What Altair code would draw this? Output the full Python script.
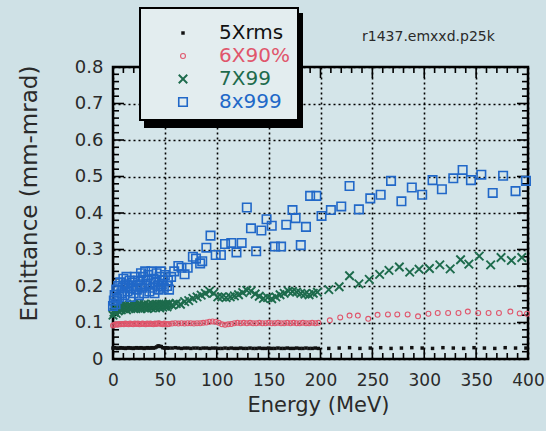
import altair as alt
import pandas as pd

# ---------------- data ----------------
series_names = ["5Xrms", "6X90%", "7X99", "8x999"]
series_colors = ["#111111", "#e0566c", "#1d6b4c", "#2168c8"]
run_label = "r1437.emxxd.p25k"

x_tick_labels = [0, 50, 100, 150, 200, 250, 300, 350, 400]
y_tick_labels = [0, 0.1, 0.2, 0.3, 0.4, 0.5, 0.6, 0.7, 0.8]

# 5Xrms
rms_e = [0, 1.5, 3, 4.5, 6, 7.5, 9, 10.5, 12, 13.5, 15, 16.5, 18, 19.5, 21, 22.5, 24, 25.5, 27, 28.5,
         30, 31.5, 33, 34.5, 36, 37.5, 39, 40.5, 42, 43.5, 45, 46.5, 48, 49.5, 51, 52.5, 54,
         57, 60, 63, 66, 69, 72, 75, 78, 81, 84, 87, 90, 93, 96, 99, 102, 105, 108, 111, 114, 117, 120,
         123, 126, 129, 132, 135, 138, 141, 144, 147, 150, 153, 156, 159, 162, 165, 168, 171, 174, 177,
         180, 183, 186, 189, 192, 195, 198,
         208, 218, 228, 238, 248, 258, 268, 278, 288, 298, 308, 318, 328, 338, 348, 358, 368, 378, 388, 398]
rms_v = [0.030, 0.031, 0.030, 0.029, 0.030, 0.031, 0.030, 0.030, 0.029, 0.030, 0.031, 0.030, 0.030, 0.029,
         0.030, 0.031, 0.030, 0.030, 0.031, 0.030, 0.029, 0.030, 0.031, 0.030, 0.030, 0.031, 0.030, 0.031,
         0.033, 0.036, 0.035, 0.034, 0.031, 0.030, 0.031, 0.030, 0.030,
         0.030, 0.031, 0.030, 0.029, 0.030, 0.030, 0.029, 0.030, 0.030, 0.029, 0.030, 0.030, 0.029, 0.030,
         0.030, 0.029, 0.029, 0.030, 0.029, 0.030, 0.029, 0.029, 0.030, 0.029, 0.029, 0.030, 0.029, 0.029,
         0.030, 0.029, 0.029, 0.030, 0.029, 0.029, 0.030, 0.029, 0.029, 0.030, 0.029, 0.029, 0.030, 0.029,
         0.029, 0.030, 0.029, 0.029, 0.030, 0.029,
         0.029, 0.030, 0.031, 0.029, 0.030, 0.031, 0.029, 0.030, 0.031, 0.030, 0.029, 0.031, 0.030, 0.029,
         0.031, 0.030, 0.029, 0.031, 0.030, 0.030]

# 6X90%
p90_e = [0, 1.5, 3, 4.5, 6, 7.5, 9, 10.5, 12, 13.5, 15, 16.5, 18, 19.5, 21, 22.5, 24, 25.5, 27, 28.5,
         30, 31.5, 33, 34.5, 36, 37.5, 39, 40.5, 42, 43.5, 45, 46.5, 48, 49.5, 51, 52.5, 54,
         57, 60, 63, 66, 69, 72, 75, 78, 81, 84, 87, 90, 93, 96, 99, 102, 105, 108, 111, 114, 117, 120,
         123, 126, 129, 132, 135, 138, 141, 144, 147, 150, 153, 156, 159, 162, 165, 168, 171, 174, 177,
         180, 183, 186, 189, 192, 195, 198,
         209, 219, 228, 236, 246, 255, 265, 274, 284, 294, 304, 313, 323, 333, 342, 352, 362, 372, 383, 392, 399]
p90_v = [0.092, 0.094, 0.095, 0.094, 0.096, 0.095, 0.096, 0.095, 0.097, 0.096, 0.095, 0.097, 0.096, 0.095,
         0.097, 0.096, 0.097, 0.095, 0.096, 0.097, 0.096, 0.095, 0.097, 0.096, 0.097, 0.096, 0.095, 0.097,
         0.096, 0.098, 0.097, 0.096, 0.095, 0.097, 0.096, 0.095, 0.096,
         0.097, 0.098, 0.097, 0.098, 0.097, 0.098, 0.098, 0.097, 0.098, 0.098, 0.099, 0.100, 0.102, 0.103,
         0.102, 0.099, 0.095, 0.094, 0.095, 0.096, 0.098, 0.099, 0.098, 0.099, 0.098, 0.099, 0.098, 0.098,
         0.099, 0.098, 0.098, 0.099, 0.098, 0.098, 0.099, 0.098, 0.098, 0.099, 0.098, 0.099, 0.098, 0.098,
         0.099, 0.098, 0.098, 0.099, 0.098, 0.099,
         0.106, 0.114, 0.119, 0.119, 0.110, 0.121, 0.122, 0.122, 0.122, 0.117, 0.124, 0.126, 0.126, 0.126,
         0.130, 0.126, 0.126, 0.126, 0.130, 0.125, 0.124]

# 7X99
p99_e = [0, 1, 2, 3, 4, 5, 6, 7, 8, 9, 10, 11, 12, 13, 14, 15, 16, 17, 18, 19, 20, 21, 22, 23, 24, 25, 26,
         27, 28, 29, 30, 31, 32, 33, 34, 35, 36, 37, 38, 39, 40, 41, 42, 43, 44, 45, 46, 47, 48, 49, 50,
         51, 52, 53, 54,
         57, 61, 65, 69, 73, 77, 81, 85, 89, 93, 97, 101, 105, 109, 113, 117, 121, 125, 129, 133, 137, 141,
         145, 149, 153, 157, 161, 165, 169, 173, 177, 181, 185, 189, 193, 197,
         208, 218, 228, 237, 247, 257, 266, 276, 286, 295, 305, 315, 325, 335, 343, 353, 364, 374, 384, 394]
p99_v = [0.120, 0.128, 0.135, 0.125, 0.140, 0.132, 0.138, 0.145, 0.135, 0.142, 0.138, 0.148, 0.140, 0.135,
         0.145, 0.140, 0.148, 0.138, 0.145, 0.140, 0.150, 0.142, 0.138, 0.146, 0.140, 0.150, 0.143, 0.138,
         0.147, 0.142, 0.150, 0.140, 0.145, 0.138, 0.148, 0.142, 0.146, 0.140, 0.150, 0.143, 0.147, 0.140,
         0.150, 0.144, 0.148, 0.140, 0.146, 0.150, 0.142, 0.148, 0.145, 0.150, 0.143, 0.148, 0.152,
         0.148, 0.152, 0.150, 0.157, 0.160, 0.166, 0.170, 0.175, 0.180, 0.186, 0.180, 0.170, 0.170, 0.168,
         0.170, 0.173, 0.176, 0.182, 0.188, 0.186, 0.178, 0.172, 0.166, 0.168, 0.165, 0.170, 0.176, 0.180,
         0.186, 0.185, 0.183, 0.180, 0.178, 0.176, 0.180, 0.183,
         0.190, 0.198, 0.228, 0.206, 0.218, 0.232, 0.243, 0.252, 0.238, 0.246, 0.248, 0.258, 0.247, 0.272,
         0.260, 0.282, 0.258, 0.278, 0.270, 0.278]

# 8x999
p999_e = [0, 0.8, 1.6, 2.4, 3.2, 4, 5, 6, 7, 8, 9, 10, 11, 12, 13, 14, 15, 16, 17, 18, 19, 20, 21, 22, 23,
          24, 25, 26, 27, 28, 29, 30, 31, 32, 33, 34, 35, 36, 37, 38, 39, 40, 41, 42, 43, 44, 45, 46, 47,
          48, 49, 50, 52, 53, 54,
          56, 59, 63, 66, 69, 72, 77, 80, 84, 86, 90, 94, 99, 104, 108, 114, 119, 124, 129, 133, 138, 143,
          148, 153, 156, 162, 167, 173, 176, 181, 186, 190, 196, 201, 210, 220, 228, 237, 248, 258, 268, 278,
          288, 298, 308, 317, 328, 337, 345, 355, 366, 376, 388, 398]
p999_v = [0.145, 0.160, 0.175, 0.150, 0.190, 0.165, 0.200, 0.170, 0.210, 0.180, 0.195, 0.220, 0.175, 0.205,
          0.225, 0.185, 0.200, 0.215, 0.170, 0.195, 0.210, 0.180, 0.225, 0.200, 0.190, 0.215, 0.175, 0.205,
          0.235, 0.195, 0.225, 0.180, 0.240, 0.200, 0.215, 0.230, 0.185, 0.205, 0.240, 0.195, 0.220, 0.180,
          0.210, 0.235, 0.200, 0.190, 0.225, 0.240, 0.205, 0.215, 0.195, 0.230, 0.200, 0.215, 0.190,
          0.225, 0.240, 0.255, 0.250, 0.232, 0.250, 0.280, 0.275, 0.262, 0.268, 0.305, 0.338, 0.285, 0.285,
          0.315, 0.318, 0.292, 0.318, 0.415, 0.358, 0.295, 0.352, 0.383, 0.365, 0.308, 0.308, 0.368, 0.408,
          0.386, 0.312, 0.362, 0.447, 0.447, 0.392, 0.408, 0.418, 0.474, 0.410, 0.440, 0.450, 0.488, 0.432,
          0.470, 0.450, 0.490, 0.465, 0.495, 0.518, 0.490, 0.505, 0.455, 0.502, 0.460, 0.488]

# axis tick positions (inward ticks on all four sides)
x_minor = list(range(0, 401, 10))
y_minor = [i / 100 for i in range(0, 81, 2)]

# ---------------- chart ----------------
FONT = "DejaVu Sans"
W, H = 415, 292
BG = "#cfe1e6"
TXT = "#2a2a2a"

frames = []
for name, es, vs in zip(series_names, [rms_e, p90_e, p99_e, p999_e], [rms_v, p90_v, p99_v, p999_v]):
    frames.append(pd.DataFrame({"E": es, "V": vs, "series": name}))
df = pd.concat(frames, ignore_index=True)

xscale = alt.Scale(domain=[0, 400], nice=False, zero=False)
yscale = alt.Scale(domain=[0, 0.8], nice=False, zero=False)
xaxis = alt.Axis(values=x_tick_labels, grid=True, gridColor="black", gridDash=[2, 3], gridWidth=1.6,
                 ticks=False, tickSize=0, domain=False, labelFont=FONT, labelFontSize=17,
                 labelColor=TXT, labelPadding=13, title="Energy (MeV)", titleFont=FONT,
                 titleFontSize=21, titleFontWeight="normal", titleColor=TXT,
                 titleX=205, titleY=46, titleBaseline="middle", labelFlush=False)
yaxis = alt.Axis(values=y_tick_labels, format=".1~f", grid=True, gridColor="black", gridDash=[2, 3],
                 gridWidth=1.6, ticks=False, tickSize=0, domain=False, labelFont=FONT, labelFontSize=18,
                 labelColor=TXT, labelPadding=10, title="Emittance (mm-mrad)", titleFont=FONT,
                 titleFontSize=23, titleFontWeight="normal", titleColor=TXT, titleX=-84, titleY=126,
                 titleAngle=270, titleAlign="center", titleBaseline="middle", labelFlush=False)


def X(field):
    return alt.X(field, type="quantitative", scale=xscale, axis=xaxis)


def Y(field):
    return alt.Y(field, type="quantitative", scale=yscale, axis=yaxis)


x_path = "M-1,-1L1,1M-1,1L1,-1"
mark_styles = [
    dict(shape="square", filled=True, size=12, strokeWidth=0, opacity=1),
    dict(shape="circle", filled=False, size=24, strokeWidth=1.1, opacity=1),
    dict(shape=x_path, filled=False, size=72, strokeWidth=1.9, opacity=1),
    dict(shape="square", filled=False, size=72, strokeWidth=1.6, opacity=1),
]

layers = []

# inward ticks
tdx = pd.DataFrame({"t": x_minor})
tdx["len"] = [11 if t % 50 == 0 else 6 for t in x_minor]
tdy = pd.DataFrame({"t": y_minor})
tdy["len"] = [11 if round(t * 100) % 10 == 0 else 6 for t in y_minor]

for lo, sel in [(6, "datum.len == 6"), (11, "datum.len == 11")]:
    layers.append(alt.Chart(tdx).transform_filter(sel).mark_rule(color="black", strokeWidth=1.6)
                  .encode(x=X("t"), y=alt.value(H), y2=alt.value(H - lo)))
    layers.append(alt.Chart(tdx).transform_filter(sel).mark_rule(color="black", strokeWidth=1.6)
                  .encode(x=X("t"), y=alt.value(0), y2=alt.value(lo)))
    layers.append(alt.Chart(tdy).transform_filter(sel).mark_rule(color="black", strokeWidth=1.6)
                  .encode(y=Y("t"), x=alt.value(0), x2=alt.value(lo)))
    layers.append(alt.Chart(tdy).transform_filter(sel).mark_rule(color="black", strokeWidth=1.6)
                  .encode(y=Y("t"), x=alt.value(W), x2=alt.value(W - lo)))

# data series
for name, color, st in zip(series_names, series_colors, mark_styles):
    layers.append(
        alt.Chart(df).transform_filter(alt.datum.series == name)
        .mark_point(color=color, **st)
        .encode(x=X("E"), y=Y("V"))
    )

# legend box (with drop shadow) and entries
one = pd.DataFrame({"k": [0]})
bx0, bx1, by0, by1 = 27, 185, -59, 53
layers.append(alt.Chart(one).mark_rect(color="black").encode(
    x=alt.value(bx0 + 4), x2=alt.value(bx1 + 5), y=alt.value(by0 + 5), y2=alt.value(by1 + 8)))
layers.append(alt.Chart(one).mark_rect(fill="#e3edef", stroke="black", strokeWidth=2).encode(
    x=alt.value(bx0), x2=alt.value(bx1), y=alt.value(by0), y2=alt.value(by1)))
row_y = [-34, -11, 12, 35]
for name, color, st, ry in zip(series_names, series_colors, mark_styles, row_y):
    layers.append(alt.Chart(one).mark_point(color=color, **st).encode(
        x=alt.value(70), y=alt.value(ry)))
    layers.append(alt.Chart(one).mark_text(text=name, color=color, font=FONT, fontSize=20,
                                           align="left", baseline="middle").encode(
        x=alt.value(106), y=alt.value(ry)))

# run label
layers.append(alt.Chart(one).mark_text(text=run_label, color=TXT, font=FONT, fontSize=14,
                                       align="left", baseline="middle").encode(
    x=alt.value(249), y=alt.value(-30)))

chart = alt.layer(*layers).properties(
    width=W, height=H, autosize="none",
    padding={"left": 113, "top": 67, "right": 18, "bottom": 72},
    background=BG,
).configure_view(fill="#d4e5e9", stroke="black", strokeWidth=2.5)

chart.save("out.html", embed_options={"renderer": "svg", "actions": False})
